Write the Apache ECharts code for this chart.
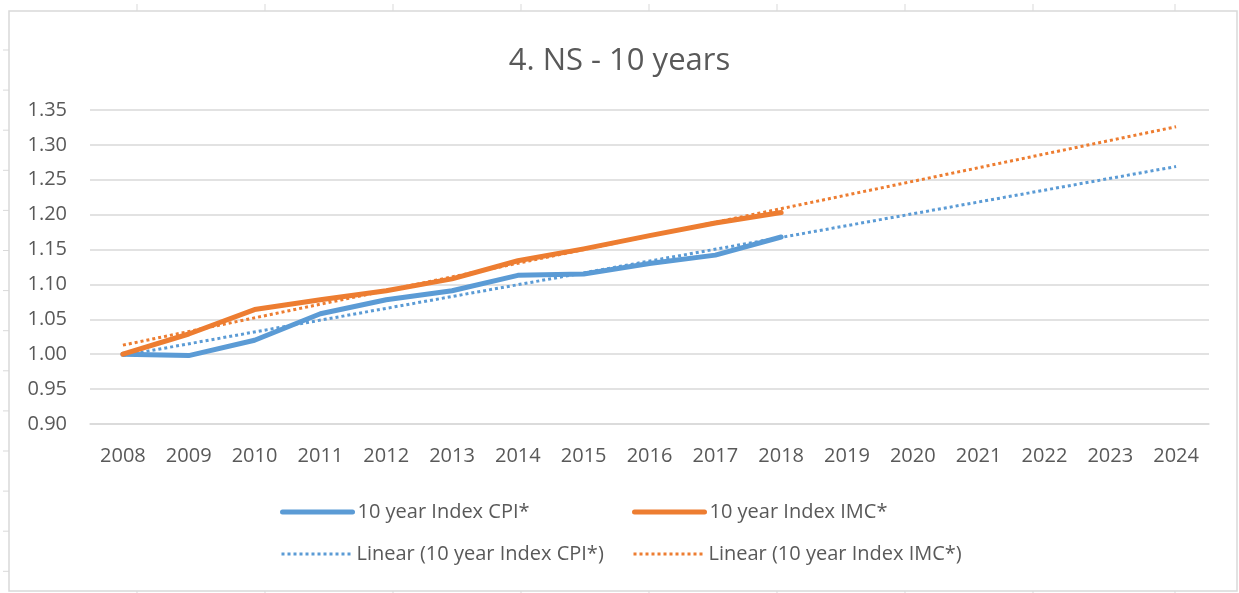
<!DOCTYPE html>
<html>
<head>
<meta charset="utf-8">
<script src="https://cdn.jsdelivr.net/npm/echarts@6/dist/echarts.min.js"></script>
<style>
html,body{margin:0;padding:0;background:#fff;}
#chart{width:1239px;height:593px;}
</style>
</head>
<body>
<div id="chart"></div>
<script>
var years = ['2008','2009','2010','2011','2012','2013','2014','2015','2016','2017','2018','2019','2020','2021','2022','2023','2024'];
var cpiIndex = [1.000, 0.998, 1.020, 1.058, 1.078, 1.091, 1.113, 1.115, 1.130, 1.142, 1.168];
var imcIndex = [1.000, 1.029, 1.064, 1.078, 1.091, 1.108, 1.134, 1.151, 1.170, 1.188, 1.203];
// trend lines, start and end point
var cpiTrend = [['2008', 0.998], ['2024', 1.269]];
var imcTrend = [['2008', 1.013], ['2024', 1.326]];
var yTicks = { min: 0.90, max: 1.35, step: 0.05 };

var names = ['10 year Index CPI*', '10 year Index IMC*', 'Linear (10 year Index CPI*)', 'Linear (10 year Index IMC*)'];
var blue = '#5B9BD5';
var orange = '#ED7D31';
var textColor = '#595959';
var font = '"Open Sans", "Liberation Sans", sans-serif';

// spreadsheet cell lines round the chart
var frame = [
	{ type: 'rect', shape: { x: 9, y: 11, width: 1228, height: 580 }, style: { fill: 'none', stroke: '#d9d9d9', lineWidth: 1.5 }, silent: true }
];
var topTicks = [137, 265, 393, 521, 649, 777, 905, 1033, 1175];
for (var t = 0; t < topTicks.length; t++) {
	frame.push({ type: 'line', shape: { x1: topTicks[t], y1: 4, x2: topTicks[t], y2: 11 }, style: { stroke: '#d9d9d9', lineWidth: 1 }, silent: true });
	frame.push({ type: 'line', shape: { x1: topTicks[t], y1: 591, x2: topTicks[t], y2: 593 }, style: { stroke: '#d9d9d9', lineWidth: 1 }, silent: true });
}
for (var r = 0; r < 14; r++) {
	var ry = 50 + r * 40.1;
	frame.push({ type: 'line', shape: { x1: 3, y1: ry, x2: 9, y2: ry }, style: { stroke: '#d9d9d9', lineWidth: 1 }, silent: true });
}

function legendAt(name, left, top, color, dotted) {
	return {
		data: [name],
		left: left,
		top: top,
		orient: 'horizontal',
		itemWidth: 70,
		itemHeight: 14,
		itemGap: 0,
		itemStyle: { opacity: 0 },
		lineStyle: dotted ? { color: color, width: 3, type: [3, 3] } : { color: color, width: 5, cap: 'round' },
		textStyle: { color: textColor, fontSize: 20, fontFamily: font, padding: [0, 0, 0, 0] },
		selectedMode: false
	};
}

var chart = echarts.init(document.getElementById('chart'));
var option = {
	animation: false,
	backgroundColor: '#fff',
	title: {
		text: '4. NS - 10 years',
		left: 'center',
		top: 41,
		textStyle: { color: textColor, fontSize: 31, fontWeight: 'normal', fontFamily: font }
	},
	graphic: frame,
	legend: [
		legendAt(names[0], 275, 497, blue, false),
		legendAt(names[1], 627, 497, orange, false),
		legendAt(names[2], 275, 539, blue, true),
		legendAt(names[3], 627, 539, orange, true)
	],
	grid: { left: 90, right: 30, top: 110, bottom: 169, containLabel: false },
	xAxis: {
		type: 'category',
		data: years,
		boundaryGap: true,
		axisLine: { show: true, lineStyle: { color: '#d9d9d9', width: 1.5 } },
		axisTick: { show: false },
		axisLabel: { color: textColor, fontSize: 20, fontFamily: font, margin: 22 }
	},
	yAxis: {
		type: 'value',
		min: yTicks.min,
		max: yTicks.max,
		interval: yTicks.step,
		axisLine: { show: false },
		axisTick: { show: false },
		splitLine: { lineStyle: { color: '#d9d9d9', width: 1.5 } },
		axisLabel: {
			color: textColor, fontSize: 20, fontFamily: font, margin: 23,
			formatter: function (v) { return v.toFixed(2); }
		}
	},
	series: [
		{
			name: names[2],
			type: 'line',
			data: cpiTrend,
			symbol: 'none',
			lineStyle: { color: blue, width: 3, type: [3, 3] },
			itemStyle: { color: blue },
			z: 2
		},
		{
			name: names[3],
			type: 'line',
			data: imcTrend,
			symbol: 'none',
			lineStyle: { color: orange, width: 3, type: [3, 3] },
			itemStyle: { color: orange },
			z: 2
		},
		{
			name: names[0],
			type: 'line',
			data: cpiIndex,
			symbol: 'none',
			lineStyle: { color: blue, width: 5, cap: 'round', join: 'round' },
			itemStyle: { color: blue },
			z: 3
		},
		{
			name: names[1],
			type: 'line',
			data: imcIndex,
			symbol: 'none',
			lineStyle: { color: orange, width: 5, cap: 'round', join: 'round' },
			itemStyle: { color: orange },
			z: 3
		}
	]
};
chart.setOption(option);
</script>
</body>
</html>
